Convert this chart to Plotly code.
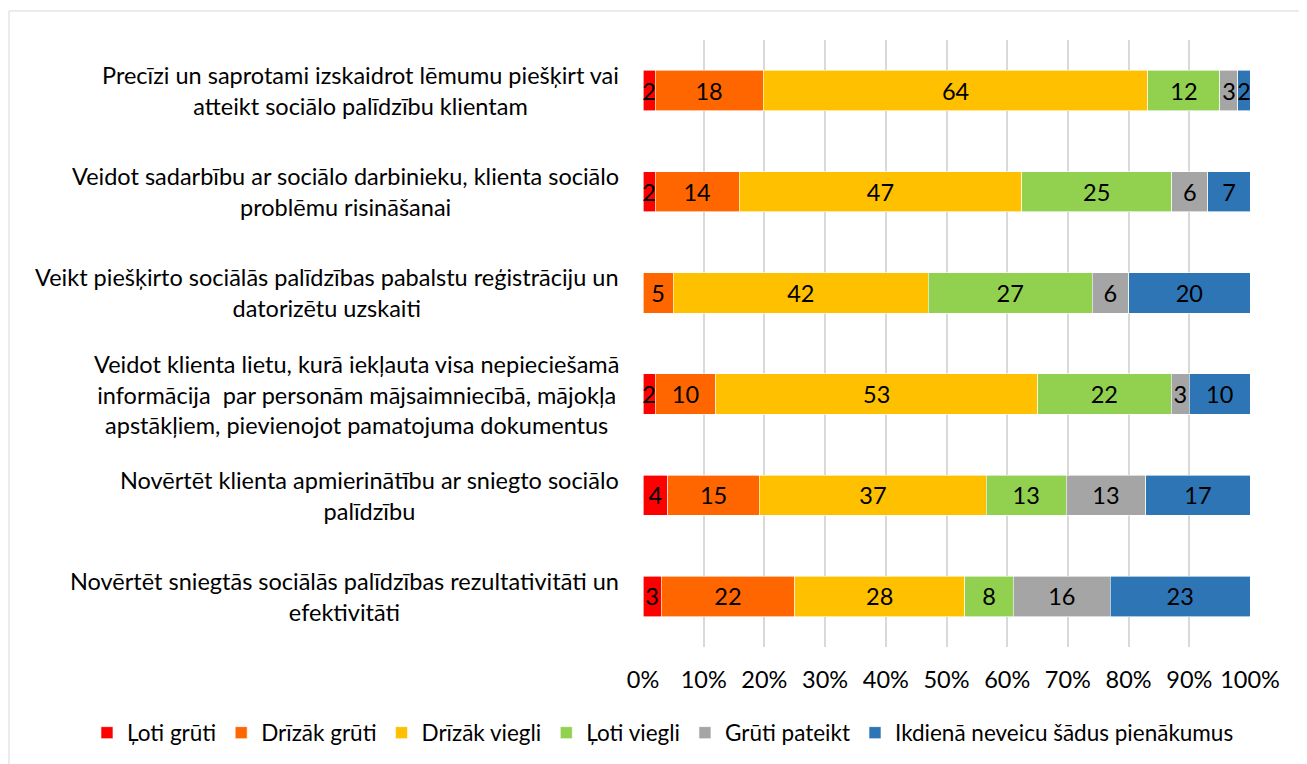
import plotly.graph_objects as go

categories = [
    "Precīzi un saprotami izskaidrot lēmumu piešķirt vai<br>atteikt sociālo palīdzību klientam",
    "Veidot sadarbību ar sociālo darbinieku, klienta sociālo<br>problēmu risināšanai",
    "Veikt piešķirto sociālās palīdzības pabalstu reģistrāciju un<br>datorizētu uzskaiti",
    "Veidot klienta lietu, kurā iekļauta visa nepieciešamā<br>informācija  par personām mājsaimniecībā, mājokļa<br>apstākļiem, pievienojot pamatojuma dokumentus",
    "Novērtēt klienta apmierinātību ar sniegto sociālo<br>palīdzību",
    "Novērtēt sniegtās sociālās palīdzības rezultativitāti un<br>efektivitāti",
]

series_names = ["Ļoti grūti", "Drīzāk grūti", "Drīzāk viegli", "Ļoti viegli",
                "Grūti pateikt", "Ikdienā neveicu šādus pienākumus"]

loti_gruti = [2, 2, 0, 2, 4, 3]
drizak_gruti = [18, 14, 5, 10, 15, 22]
drizak_viegli = [64, 47, 42, 53, 37, 28]
loti_viegli = [12, 25, 27, 22, 13, 8]
gruti_pateikt = [3, 6, 6, 3, 13, 16]
ikdiena_neveicu = [2, 7, 20, 10, 17, 23]

series_values = [loti_gruti, drizak_gruti, drizak_viegli, loti_viegli,
                 gruti_pateikt, ikdiena_neveicu]
colors = ["#FF0000", "#FF6600", "#FFC000", "#92D050", "#A5A5A5", "#2E75B6"]

FONT = "Lato, 'Open Sans', sans-serif"
FS = 23.5
LFS = 22.5

fig = go.Figure()
for name, vals, col in zip(series_names, series_values, colors):
    fig.add_trace(go.Bar(
        y=categories, x=vals, name=name, orientation="h",
        marker=dict(color=col, line=dict(width=0.6, color="white")),
        text=[str(v) if v else "" for v in vals],
        textposition="inside", insidetextanchor="middle", textangle=0,
        constraintext="none",
        textfont=dict(color="black", size=FS, family=FONT),
    ))

for cat in categories:
    fig.add_annotation(
        x=0, xref="paper", y=cat, yref="y", xanchor="right", xshift=-22,
        text=cat, showarrow=False, align="center",
        font=dict(size=FS, family=FONT, color="black"),
    )

fig.add_shape(type="rect", xref="paper", yref="paper",
              x0=-1.0445, x1=1.0923, y0=-0.21, y1=1.0478,
              line=dict(color="#D9D9D9", width=1), fillcolor="rgba(0,0,0,0)",
              layer="below")

fig.update_layout(
    barmode="stack", barnorm="percent", bargap=0.6,
    width=1307, height=764,
    margin=dict(l=635, r=65, t=32, b=125, autoexpand=False),
    plot_bgcolor="white", paper_bgcolor="white",
    font=dict(family=FONT, size=FS, color="black"),
    uniformtext=dict(mode="show", minsize=FS),
    showlegend=True,
    legend=dict(orientation="h", x=-0.916, xanchor="left",
                y=-0.1417, yanchor="middle",
                font=dict(size=LFS, family=FONT),
                traceorder="normal", itemwidth=30),
    xaxis=dict(range=[0, 100], tickvals=list(range(0, 101, 10)),
               ticktext=[f"{v}%" for v in range(0, 101, 10)],
               showgrid=True, gridcolor="#D9D9D9", gridwidth=1.5,
               zeroline=False, showline=False,
               ticks="outside", ticklen=12, tickcolor="rgba(0,0,0,0)",
               tickfont=dict(size=FS, family=FONT)),
    yaxis=dict(autorange="reversed", showticklabels=False, showgrid=False,
               zeroline=False, showline=False),
)

fig.write_html("out.html")
